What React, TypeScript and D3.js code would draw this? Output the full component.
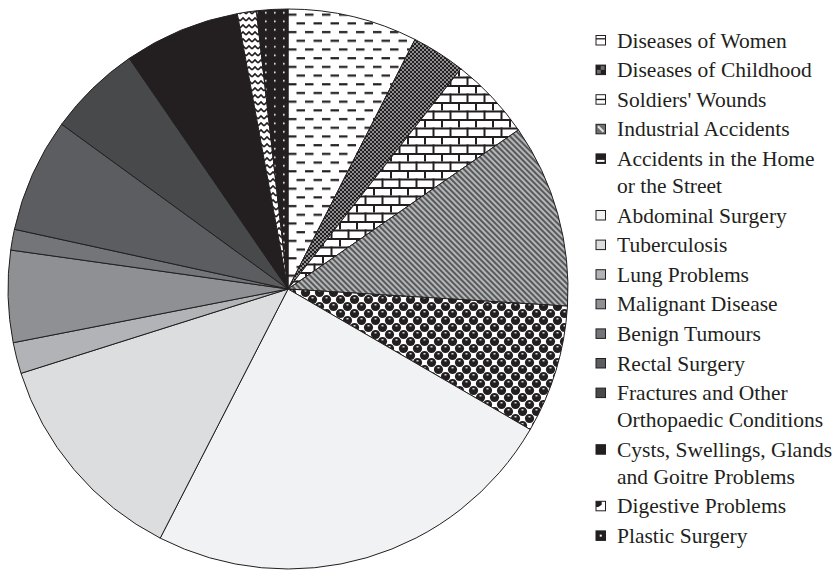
import React from "react";
import * as d3 from "d3";

const categories: string[] = [
  "Diseases of Women",
  "Diseases of Childhood",
  "Soldiers' Wounds",
  "Industrial Accidents",
  "Accidents in the Home\nor the Street",
  "Abdominal Surgery",
  "Tuberculosis",
  "Lung Problems",
  "Malignant Disease",
  "Benign Tumours",
  "Rectal Surgery",
  "Fractures and Other\nOrthopaedic Conditions",
  "Cysts, Swellings, Glands\nand Goitre Problems",
  "Digestive Problems",
  "Plastic Surgery",
];

const values: number[] = [7.5, 3.1, 4.8, 10.6, 7.4, 24.2, 12.6, 1.8, 5.3, 1.2, 6.6, 5.4, 6.7, 1.1, 1.8];

const fills: string[] = [
  "url(#pWomen)",
  "url(#pChild)",
  "url(#pBrick)",
  "url(#pStripe)",
  "url(#pBalls)",
  "#f1f2f3",
  "#dcdddf",
  "#b2b3b6",
  "#8f9093",
  "#747578",
  "#5c5d60",
  "#48494b",
  "#231f20",
  "url(#pZig)",
  "url(#pDots)",
];

const DARK = "#231f20";
const W = 837;
const H = 571;
const cx = 288;
const cy = 289;
const R = 280;
const SERIF = "'Liberation Serif', 'DejaVu Serif', Tinos, 'Times New Roman', Times, serif";

function IconDetail({ i, x, y, s }: { i: number; x: number; y: number; s: number }) {
  switch (i) {
    case 0:
      return (
        <g>
          <rect x={x} y={y} width={s} height={s} fill="#fff" stroke={DARK} />
          <line x1={x} x2={x + s} y1={y + 3.3} y2={y + 3.3} stroke={DARK} strokeWidth={1.3} />
        </g>
      );
    case 1:
      return (
        <g>
          <rect x={x} y={y} width={s} height={s} fill={DARK} stroke={DARK} />
          <rect x={x + s / 2} y={y + 1} width={s / 2 - 1} height={s / 2 - 1} fill="#6d6e70" />
          <rect x={x + 1} y={y + s / 2} width={s / 2 - 1} height={s / 2 - 1} fill="#6d6e70" />
        </g>
      );
    case 2:
      return (
        <g>
          <rect x={x} y={y} width={s} height={s} fill="#fff" stroke={DARK} />
          <line x1={x} x2={x + s} y1={y + s / 2} y2={y + s / 2} stroke={DARK} strokeWidth={1.4} />
        </g>
      );
    case 3:
      return (
        <g>
          <rect x={x} y={y} width={s} height={s} fill="#6f7072" stroke={DARK} />
          <line x1={x + 2} y1={y + 2} x2={x + s - 2} y2={y + s - 2} stroke="#e6e7e8" strokeWidth={2} />
        </g>
      );
    case 4:
      return (
        <g>
          <rect x={x} y={y} width={s} height={s} fill={DARK} stroke={DARK} />
          <rect x={x + 1} y={y + s - 3.5} width={s - 2} height={2} fill="#fff" />
        </g>
      );
    case 13:
      return (
        <g>
          <rect x={x} y={y} width={s} height={s} fill="#fff" stroke={DARK} />
          <path
            d={`M${x},${y} L${x + s * 0.6},${y} L${x + s * 0.6},${y + s * 0.35} L${x + s * 0.25},${y + s * 0.6} L${x},${y + s * 0.6} Z`}
            fill={DARK}
          />
        </g>
      );
    case 14:
      return (
        <g>
          <rect x={x} y={y} width={s} height={s} fill={DARK} stroke={DARK} />
          <rect x={x + s / 2 - 1} y={y + s / 2 - 1} width={2} height={2} fill="#fff" />
        </g>
      );
    default:
      return <rect x={x} y={y} width={s} height={s} fill={fills[i]} stroke={DARK} />;
  }
}

export default function App() {
  const pie = d3
    .pie<number>()
    .sort(null)
    .value((d) => d)
    .startAngle(0)
    .endAngle(2 * Math.PI);
  const arcs = pie(values);
  const arc = d3.arc<d3.PieArcDatum<number>>().innerRadius(0).outerRadius(R);

  const legendX = 596;
  const textX = 617;
  const y0 = 40;
  const step = 29.6;
  const extra = 27;
  let extraCount = 0;
  const legendItems = categories.map((c, i) => {
    const lines = c.split("\n");
    const y = y0 + i * step + extraCount * extra;
    extraCount += lines.length - 1;
    return { lines, y, i };
  });

  return (
    <svg
      width={W}
      height={H}
      style={{ position: "absolute", left: 0, top: 0, background: "#fff" }}
    >
      <defs>
        <pattern id="pWomen" width={17} height={17.4} patternUnits="userSpaceOnUse">
          <rect width={17} height={17.4} fill="#fff" />
          <rect x={0} y={3} width={8.5} height={2.2} fill={DARK} />
          <rect x={8.5} y={11.7} width={8.5} height={2.2} fill={DARK} />
        </pattern>
        <pattern id="pChild" width={4} height={4} patternUnits="userSpaceOnUse">
          <rect width={4} height={4} fill="#8d8e90" />
          <rect x={0} y={0} width={2} height={2} fill={DARK} />
          <rect x={2} y={2} width={2} height={2} fill={DARK} />
        </pattern>
        <pattern id="pBrick" width={17} height={17} patternUnits="userSpaceOnUse">
          <rect width={17} height={17} fill="#fff" />
          <rect x={0} y={0} width={17} height={2} fill={DARK} />
          <rect x={0} y={8.5} width={17} height={2} fill={DARK} />
          <rect x={0} y={0} width={2} height={8.5} fill={DARK} />
          <rect x={8.5} y={8.5} width={2} height={8.5} fill={DARK} />
        </pattern>
        <pattern
          id="pStripe"
          width={4}
          height={4}
          patternUnits="userSpaceOnUse"
          patternTransform="rotate(-45)"
        >
          <rect width={4} height={4} fill="#b5b6b8" />
          <rect x={0} y={0} width={2} height={4} fill="#58595b" />
        </pattern>
        <pattern id="pBalls" width={14} height={14} patternUnits="userSpaceOnUse">
          <rect width={14} height={14} fill="#fff" />
          <circle cx={3.5} cy={3.5} r={4.6} fill={DARK} />
          <circle cx={10.5} cy={10.5} r={4.6} fill={DARK} />
          <circle cx={17.5} cy={3.5} r={4.6} fill={DARK} />
          <circle cx={3.5} cy={17.5} r={4.6} fill={DARK} />
          <circle cx={-3.5} cy={10.5} r={4.6} fill={DARK} />
          <circle cx={10.5} cy={-3.5} r={4.6} fill={DARK} />
          <rect x={2.5} y={1.2} width={2} height={1.2} fill="#fff" />
          <rect x={9.5} y={8.2} width={2} height={1.2} fill="#fff" />
        </pattern>
        <pattern id="pZig" width={6} height={7} patternUnits="userSpaceOnUse">
          <rect width={6} height={7} fill="#fff" />
          <path d="M0,5 L3,2 L6,5" stroke={DARK} strokeWidth={1.6} fill="none" />
        </pattern>
        <pattern id="pDots" width={9} height={8.5} patternUnits="userSpaceOnUse">
          <rect width={9} height={8.5} fill={DARK} />
          <rect x={4} y={3.5} width={1.6} height={1.6} fill="#fff" />
        </pattern>
      </defs>

      <g transform={`translate(${cx},${cy})`}>
        {arcs.map((a, i) => (
          <path
            key={i}
            d={arc(a) || ""}
            fill={fills[i]}
            stroke={DARK}
            strokeWidth={1}
            strokeLinejoin="round"
          />
        ))}
      </g>

      <g fontFamily={SERIF} fontSize={21.5}>
        {legendItems.map(({ lines, y, i }) => (
          <g key={i}>
            <IconDetail i={i} x={legendX} y={y - 4.5} s={9.5} />
            {lines.map((ln, k) => (
              <text key={k} x={textX} y={y + 7.5 + k * extra} fill={DARK}>
                {ln}
              </text>
            ))}
          </g>
        ))}
      </g>
    </svg>
  );
}
